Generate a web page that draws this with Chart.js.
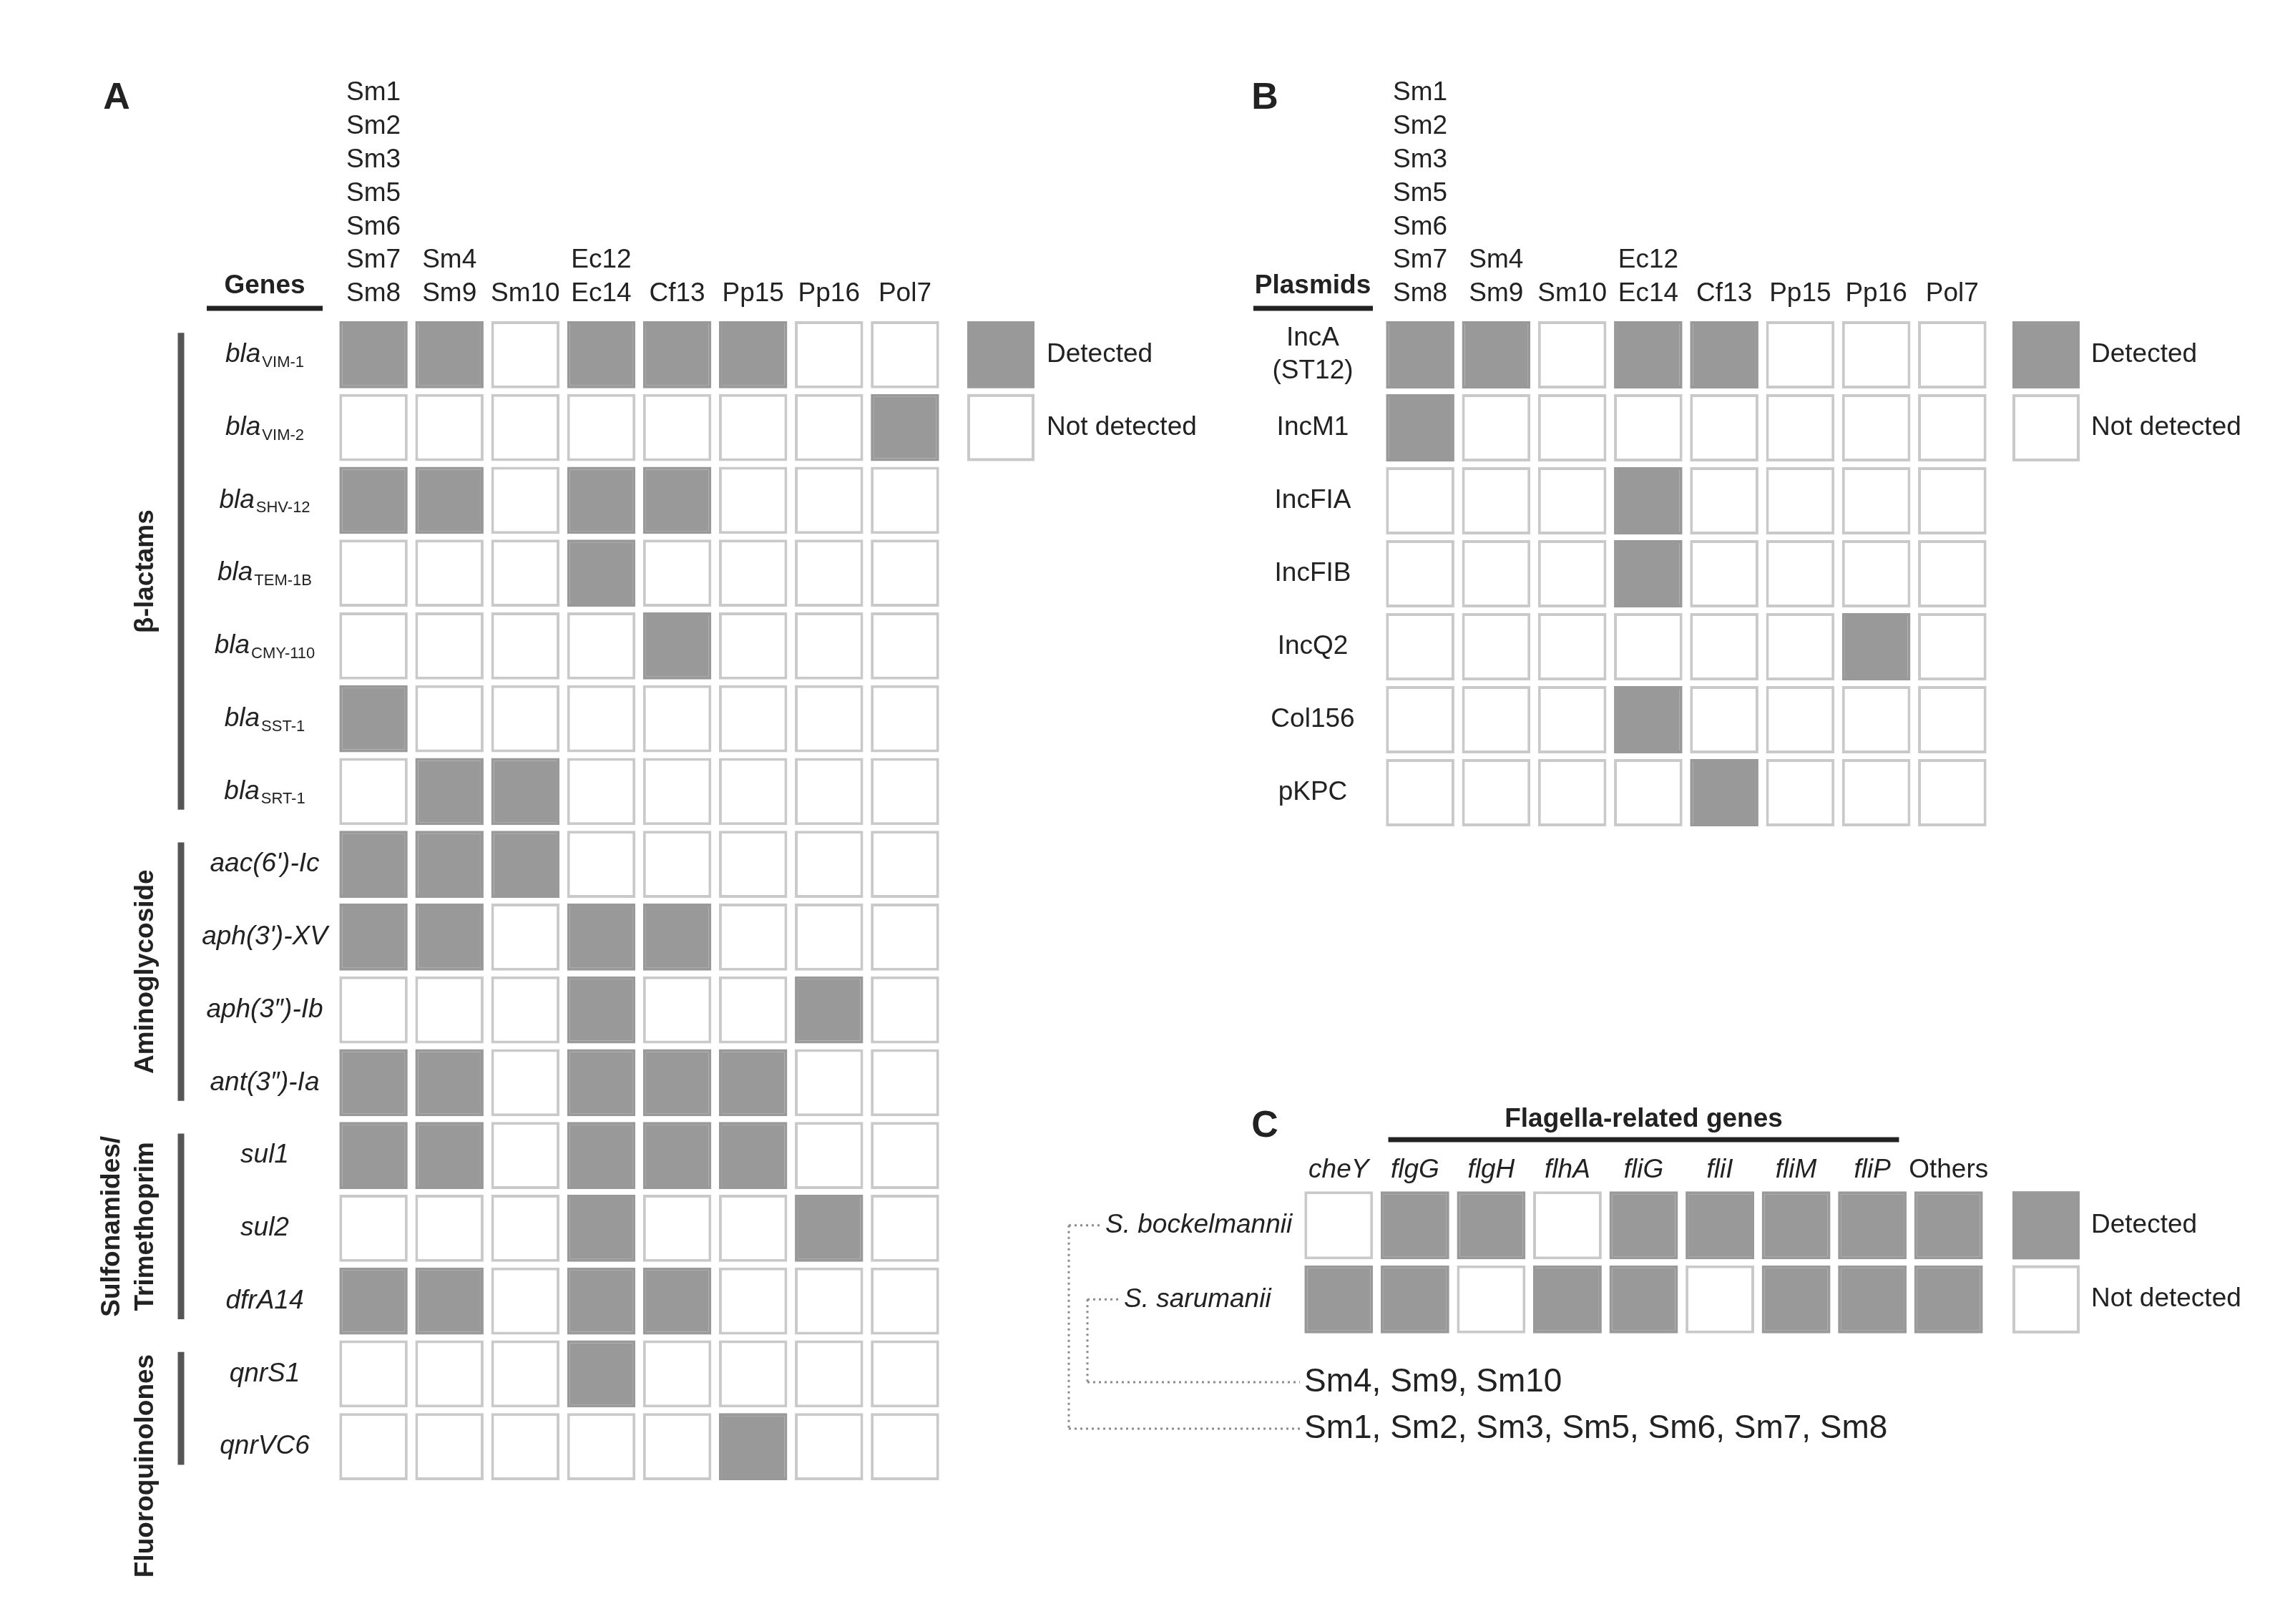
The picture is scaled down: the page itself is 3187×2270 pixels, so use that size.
<!DOCTYPE html>
<html>
<head>
<meta charset="utf-8">
<title>Resistance genes, plasmids and flagella-related genes</title>
<script src="https://cdn.jsdelivr.net/npm/chart.js@4.4.1/dist/chart.umd.min.js"></script>
<style>
  html, body { margin: 0; padding: 0; background: #fff; }
  #wrap { position: relative; width: 3187px; height: 2270px; overflow: hidden; }
  #wrap canvas { position: absolute; left: 0; top: 0; }
</style>
</head>
<body>
<div id="wrap">
  <canvas id="chartA" width="3187" height="2270"></canvas>
  <canvas id="chartB" width="3187" height="2270"></canvas>
  <canvas id="chartC" width="3187" height="2270"></canvas>
</div>
<script>
// ---- data ----
const isolates = [
  ['Sm1', 'Sm2', 'Sm3', 'Sm5', 'Sm6', 'Sm7', 'Sm8'],
  ['Sm4', 'Sm9'], ['Sm10'], ['Ec12', 'Ec14'], ['Cf13'], ['Pp15'], ['Pp16'], ['Pol7']
]

const genes = ['bla', 'bla', 'bla', 'bla', 'bla', 'bla', 'bla',
  "aac(6')-Ic", "aph(3')-XV", 'aph(3″)-Ib', 'ant(3″)-Ia',
  'sul1', 'sul2', 'dfrA14', 'qnrS1', 'qnrVC6']
const geneSubs = ['VIM-1', 'VIM-2', 'SHV-12', 'TEM-1B', 'CMY-110', 'SST-1', 'SRT-1',
  '', '', '', '', '', '', '', '', '']
const geneDetected = [
  [1, 1, 0, 1, 1, 1, 0, 0],
  [0, 0, 0, 0, 0, 0, 0, 1],
  [1, 1, 0, 1, 1, 0, 0, 0],
  [0, 0, 0, 1, 0, 0, 0, 0],
  [0, 0, 0, 0, 1, 0, 0, 0],
  [1, 0, 0, 0, 0, 0, 0, 0],
  [0, 1, 1, 0, 0, 0, 0, 0],
  [1, 1, 1, 0, 0, 0, 0, 0],
  [1, 1, 0, 1, 1, 0, 0, 0],
  [0, 0, 0, 1, 0, 0, 1, 0],
  [1, 1, 0, 1, 1, 1, 0, 0],
  [1, 1, 0, 1, 1, 1, 0, 0],
  [0, 0, 0, 1, 0, 0, 1, 0],
  [1, 1, 0, 1, 1, 0, 0, 0],
  [0, 0, 0, 1, 0, 0, 0, 0],
  [0, 0, 0, 0, 0, 1, 0, 0]
]
const geneClasses = [['β-lactams'], ['Aminoglycoside'], ['Sulfonamides/', 'Trimethoprim'], ['Fluoroquinolones']]
const classRows = [[0, 6], [7, 10], [11, 13], [14, 15]]

const plasmids = [['IncA', '(ST12)'], ['IncM1'], ['IncFIA'], ['IncFIB'], ['IncQ2'], ['Col156'], ['pKPC']]
const plasmidDetected = [
  [1, 1, 0, 1, 1, 0, 0, 0],
  [1, 0, 0, 0, 0, 0, 0, 0],
  [0, 0, 0, 1, 0, 0, 0, 0],
  [0, 0, 0, 1, 0, 0, 0, 0],
  [0, 0, 0, 0, 0, 0, 1, 0],
  [0, 0, 0, 1, 0, 0, 0, 0],
  [0, 0, 0, 0, 1, 0, 0, 0]
]

const flagellaGenes = ['cheY', 'flgG', 'flgH', 'flhA', 'fliG', 'fliI', 'fliM', 'fliP', 'Others']
const species = ['S. bockelmannii', 'S. sarumanii']
const flagellaDetected = [
  [0, 1, 1, 0, 1, 1, 1, 1, 1],
  [1, 1, 0, 1, 1, 0, 1, 1, 1]
]
const speciesGroups = ['Sm4, Sm9, Sm10', 'Sm1, Sm2, Sm3, Sm5, Sm6, Sm7, Sm8']
const legendLabels = ['Detected', 'Not detected']

// ---- styles ----
const FONT = '"Liberation Sans", Arial, Helvetica, sans-serif'
const INK = '#222222'
const GRAY = '#999999'
const EDGE = '#c9c9c9'
const HALF = 0.46   // half cell height in row units

function txt(ctx, s, x, y, o = {}) {
  ctx.save()
  ctx.font = `${o.style || 'normal'} ${o.weight || 'normal'} ${o.size || 37}px ${FONT}`
  ctx.fillStyle = o.color || INK
  ctx.textAlign = o.align || 'center'
  ctx.textBaseline = 'middle'
  ctx.translate(x, y)
  if (o.rot) ctx.rotate(o.rot)
  ctx.fillText(s, 0, 0)
  ctx.restore()
}

function line(ctx, x1, y1, x2, y2, w, color, dash) {
  ctx.save()
  ctx.strokeStyle = color
  ctx.lineWidth = w
  if (dash) ctx.setLineDash(dash)
  ctx.beginPath()
  ctx.moveTo(x1, y1)
  ctx.lineTo(x2, y2)
  ctx.stroke()
  ctx.restore()
}

// italic gene name with an upright subscript (bla_VIM-1 ...)
function subLabel(ctx, name, sub, cx, cy) {
  ctx.save()
  ctx.font = `italic 37px ${FONT}`
  const w1 = ctx.measureText(name).width
  ctx.font = `22px ${FONT}`
  const w2 = ctx.measureText(sub).width
  const x0 = cx - (w1 + w2 + 2) / 2
  ctx.fillStyle = INK
  ctx.textAlign = 'left'
  ctx.textBaseline = 'middle'
  ctx.font = `italic 37px ${FONT}`
  ctx.fillText(name, x0, cy)
  ctx.font = `22px ${FONT}`
  ctx.fillText(sub, x0 + w1 + 2, cy + 11)
  ctx.restore()
}

function cellDatasets(matrix) {
  return matrix.map((row, i) => ({
    data: row.map(() => [i - HALF, i + HALF]),
    backgroundColor: row.map(v => v ? GRAY : '#ffffff'),
    borderColor: row.map(v => v ? GRAY : EDGE),
    borderWidth: 4,
    borderSkipped: false,
    grouped: false,
    categoryPercentage: 1,
    barPercentage: 0.9
  }))
}

function drawLegend(chart, x, textX) {
  const ctx = chart.ctx, y = chart.scales.y
  const h = y.getPixelForValue(HALF) - y.getPixelForValue(-HALF)
  legendLabels.forEach((lab, i) => {
    const cy = y.getPixelForValue(i)
    ctx.save()
    if (i === 0) {
      ctx.fillStyle = GRAY
      ctx.fillRect(x, cy - h / 2, 94, h)
    } else {
      ctx.strokeStyle = EDGE
      ctx.lineWidth = 4
      ctx.strokeRect(x + 2, cy - h / 2 + 2, 90, h - 4)
    }
    ctx.restore()
    txt(ctx, lab, textX, cy, {align: 'left'})
  })
}

function drawIsolates(chart) {
  const ctx = chart.ctx, x = chart.scales.x
  const base = chart.chartArea.top - 34
  isolates.forEach((lines, j) => {
    lines.forEach((s, k) => txt(ctx, s, x.getPixelForValue(j), base - (lines.length - 1 - k) * 46.8))
  })
}

function drawPanelA(chart) {
  const ctx = chart.ctx, y = chart.scales.y
  txt(ctx, 'A', 163, 138, {size: 52, weight: 'bold'})
  drawIsolates(chart)
  txt(ctx, 'Genes', 370, 400, {weight: 'bold'})
  line(ctx, 289, 431, 451, 431, 7, INK)

  genes.forEach((g, i) => {
    const cy = y.getPixelForValue(i)
    if (geneSubs[i]) subLabel(ctx, g, geneSubs[i], 370, cy)
    else txt(ctx, g, 370, cy, {style: 'italic'})
  })

  // antibiotic class brackets
  const pitch = y.getPixelForValue(1) - y.getPixelForValue(0)
  geneClasses.forEach((names, k) => {
    const top = y.getPixelForValue(classRows[k][0]) - 0.3 * pitch
    const bot = y.getPixelForValue(classRows[k][1]) + 0.25 * pitch
    line(ctx, 253, top, 253, bot, 9, '#555555')
    const xs = names.length > 1 ? [157, 204] : [204]
    ctx.font = `bold 37px ${FONT}`
    const tooLong = ctx.measureText(names[0]).width > bot - top
    names.forEach((s, n) => {
      if (tooLong) txt(ctx, s, xs[n], top + 3, {weight: 'bold', rot: -Math.PI / 2, align: 'right'})
      else txt(ctx, s, xs[n], (top + bot) / 2, {weight: 'bold', rot: -Math.PI / 2})
    })
  })

  drawLegend(chart, 1352, 1463)
}

function drawPanelB(chart) {
  const ctx = chart.ctx, y = chart.scales.y
  txt(ctx, 'B', 1768, 138, {size: 52, weight: 'bold'})
  drawIsolates(chart)
  txt(ctx, 'Plasmids', 1835, 400, {weight: 'bold'})
  line(ctx, 1752, 431, 1919, 431, 7, INK)
  plasmids.forEach((lines, i) => {
    lines.forEach((s, k) => txt(ctx, s, 1835, y.getPixelForValue(i) + (k - (lines.length - 1) / 2) * 46))
  })
  drawLegend(chart, 2813, 2923)
}

function drawPanelC(chart) {
  const ctx = chart.ctx, x = chart.scales.x, y = chart.scales.y
  txt(ctx, 'C', 1768, 1575, {size: 52, weight: 'bold'})
  const pitchX = x.getPixelForValue(1) - x.getPixelForValue(0)
  txt(ctx, 'Flagella-related genes', x.getPixelForValue(4), 1565, {weight: 'bold'})
  line(ctx, x.getPixelForValue(1) - 0.35 * pitchX, 1593, x.getPixelForValue(7) + 0.35 * pitchX, 1593, 7, INK)
  flagellaGenes.forEach((g, j) => {
    txt(ctx, g, x.getPixelForValue(j), chart.chartArea.top - 25, {style: g === 'Others' ? 'normal' : 'italic'})
  })

  // dotted tree joining the species to the isolate groups
  const yb = y.getPixelForValue(0), ys = y.getPixelForValue(1)
  const y4 = 1932, y1 = 1997
  const dot = [3, 5], dc = '#8c8c8c'
  line(ctx, 1494, yb, 1539, yb, 3, dc, dot)
  line(ctx, 1494, yb, 1494, y1, 3, dc, dot)
  line(ctx, 1494, y1, 1817, y1, 3, dc, dot)
  line(ctx, 1520, ys, 1565, ys, 3, dc, dot)
  line(ctx, 1520, ys, 1520, y4, 3, dc, dot)
  line(ctx, 1520, y4, 1817, y4, 3, dc, dot)

  txt(ctx, species[0], 1545, yb, {style: 'italic', align: 'left'})
  txt(ctx, species[1], 1571, ys, {style: 'italic', align: 'left'})
  txt(ctx, speciesGroups[0], chart.chartArea.left + 5, y4, {size: 46, align: 'left'})
  txt(ctx, speciesGroups[1], chart.chartArea.left + 5, y1, {size: 46, align: 'left'})

  drawLegend(chart, 2813, 2923)
}

function heatmap(id, labels, matrix, pad, drawText) {
  return new Chart(document.getElementById(id), {
    type: 'bar',
    data: {labels: labels, datasets: cellDatasets(matrix)},
    options: {
      responsive: false,
      animation: false,
      devicePixelRatio: 1,
      layout: {padding: pad},
      plugins: {legend: {display: false}, tooltip: {enabled: false}},
      scales: {
        x: {display: false, offset: true},
        y: {display: false, min: -0.5, max: matrix.length - 0.5, reverse: true}
      }
    },
    plugins: [{id: id + 'Text', afterDraw: drawText}]
  })
}

const isolateNames = isolates.map(l => l.join(' '))
heatmap('chartA', isolateNames, geneDetected, {left: 469, right: 1869, top: 445, bottom: 197}, drawPanelA)
heatmap('chartB', isolateNames, plasmidDetected, {left: 1932, right: 405, top: 445, bottom: 1111}, drawPanelB)
heatmap('chartC', flagellaGenes, flagellaDetected, {left: 1818, right: 410, top: 1661, bottom: 402}, drawPanelC)
</script>
</body>
</html>
